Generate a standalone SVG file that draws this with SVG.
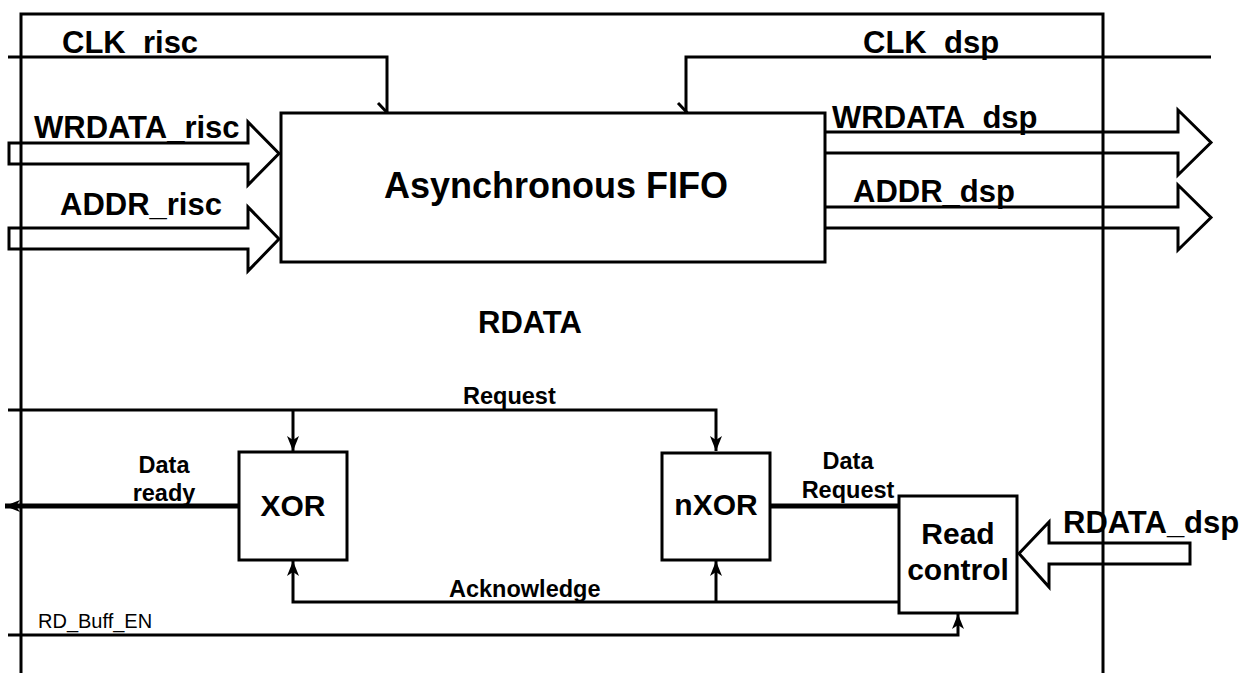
<svg xmlns="http://www.w3.org/2000/svg" width="1242" height="673" viewBox="0 0 1242 673">
<style>
.ln{fill:none;stroke:#000;stroke-width:3;stroke-linejoin:miter}
.thk{fill:none;stroke:#000;stroke-width:5}
.box{fill:#fff;stroke:#000;stroke-width:3}
.bus{fill:none;stroke:#000;stroke-width:3;stroke-linejoin:miter}
.lb{font-family:"Liberation Sans",Arial,sans-serif;font-weight:bold;font-size:31px;fill:#000}
.nd{font-family:"Liberation Sans",Arial,sans-serif;font-weight:bold;font-size:30px;fill:#000}
.sm{font-family:"Liberation Sans",Arial,sans-serif;font-weight:bold;font-size:23.5px;fill:#000}
.rg{font-family:"Liberation Sans",Arial,sans-serif;font-size:20px;fill:#000}
.ttl{font-family:"Liberation Sans",Arial,sans-serif;font-weight:bold;font-size:36px;fill:#000}
</style>
<defs>
<marker id="arr" viewBox="0 0 15 12" refX="15" refY="6" markerWidth="15" markerHeight="12" markerUnits="userSpaceOnUse" orient="auto">
<path d="M0,0 L15,6 L0,12 L4,6 Z" fill="#000"/>
</marker>
</defs>
<rect width="1242" height="673" fill="#fff"/>
<g id="frame">
<polyline class="ln" points="21,673 21,14 1103,14 1103,673"/>
</g>
<g id="connectors">
<polyline class="ln" points="8,57 387,57 387,113"/>
<line class="ln" x1="378" y1="103" x2="396" y2="122"/>
<polyline class="ln" points="1211,57 686,57 686,113"/>
<line class="ln" x1="678" y1="103" x2="696" y2="122"/>
<polygon class="bus" points="9,143 248,143 248,122 279,153.5 248,185 248,164 9,164"/>
<polygon class="bus" points="9,228 248,228 248,207 279,239 248,271 248,249 9,249"/>
<polyline class="bus" points="825,132 1178,132 1178,110 1211,142.5 1178,175 1178,153 825,153"/>
<polyline class="bus" points="825,207 1178,207 1178,185 1211,217.5 1178,250 1178,228 825,228"/>
<polygon class="bus" points="1190,543 1049,543 1049,522 1019,553.5 1049,587 1049,564 1190,564"/>
<polyline class="ln" points="8,410 716,410 716,451" marker-end="url(#arr)"/>
<line class="ln" x1="293" y1="410" x2="293" y2="451" marker-end="url(#arr)"/>
<line class="thk" x1="239" y1="506" x2="5" y2="506" marker-end="url(#arr)"/>
<line class="thk" x1="770" y1="506" x2="899" y2="506"/>
<polyline class="ln" points="899,602 293,602 293,561" marker-end="url(#arr)"/>
<line class="ln" x1="716" y1="602" x2="716" y2="561" marker-end="url(#arr)"/>
<polyline class="ln" points="8,635 958,635 958,614" marker-end="url(#arr)"/>
</g>
<g id="fifo">
<rect class="box" x="281" y="113" width="544" height="149"/>
<text class="ttl" x="556" y="198" text-anchor="middle">Asynchronous FIFO</text>
</g>
<g id="xor">
<rect class="box" x="239" y="452" width="108" height="108"/>
<text class="nd" x="293" y="516" text-anchor="middle">XOR</text>
</g>
<g id="nxor">
<rect class="box" x="662" y="453" width="108" height="107"/>
<text class="nd" x="716" y="515" text-anchor="middle">nXOR</text>
</g>
<g id="read-control">
<rect class="box" x="899" y="496" width="118" height="117"/>
<text class="nd" x="958" y="544" text-anchor="middle">Read</text>
<text class="nd" x="958" y="580" text-anchor="middle">control</text>
</g>
<g id="labels">
<text class="lb" x="62" y="53">CLK_risc</text>
<text class="lb" x="34" y="138">WRDATA_risc</text>
<text class="lb" x="60" y="215">ADDR_risc</text>
<text class="lb" x="863" y="53">CLK_dsp</text>
<text class="lb" x="832" y="128">WRDATA_dsp</text>
<text class="lb" x="853" y="202">ADDR_dsp</text>
<text class="lb" x="478" y="333">RDATA</text>
<text class="sm" x="463" y="404">Request</text>
<text class="sm" x="164" y="473" text-anchor="middle">Data</text>
<text class="sm" x="164" y="501" text-anchor="middle">ready</text>
<text class="sm" x="848" y="469" text-anchor="middle">Data</text>
<text class="sm" x="848" y="498" text-anchor="middle">Request</text>
<text class="sm" x="449" y="597">Acknowledge</text>
<text class="lb" x="1063" y="533">RDATA_dsp</text>
<text class="rg" x="38" y="628">RD_Buff_EN</text>
</g>
</svg>
